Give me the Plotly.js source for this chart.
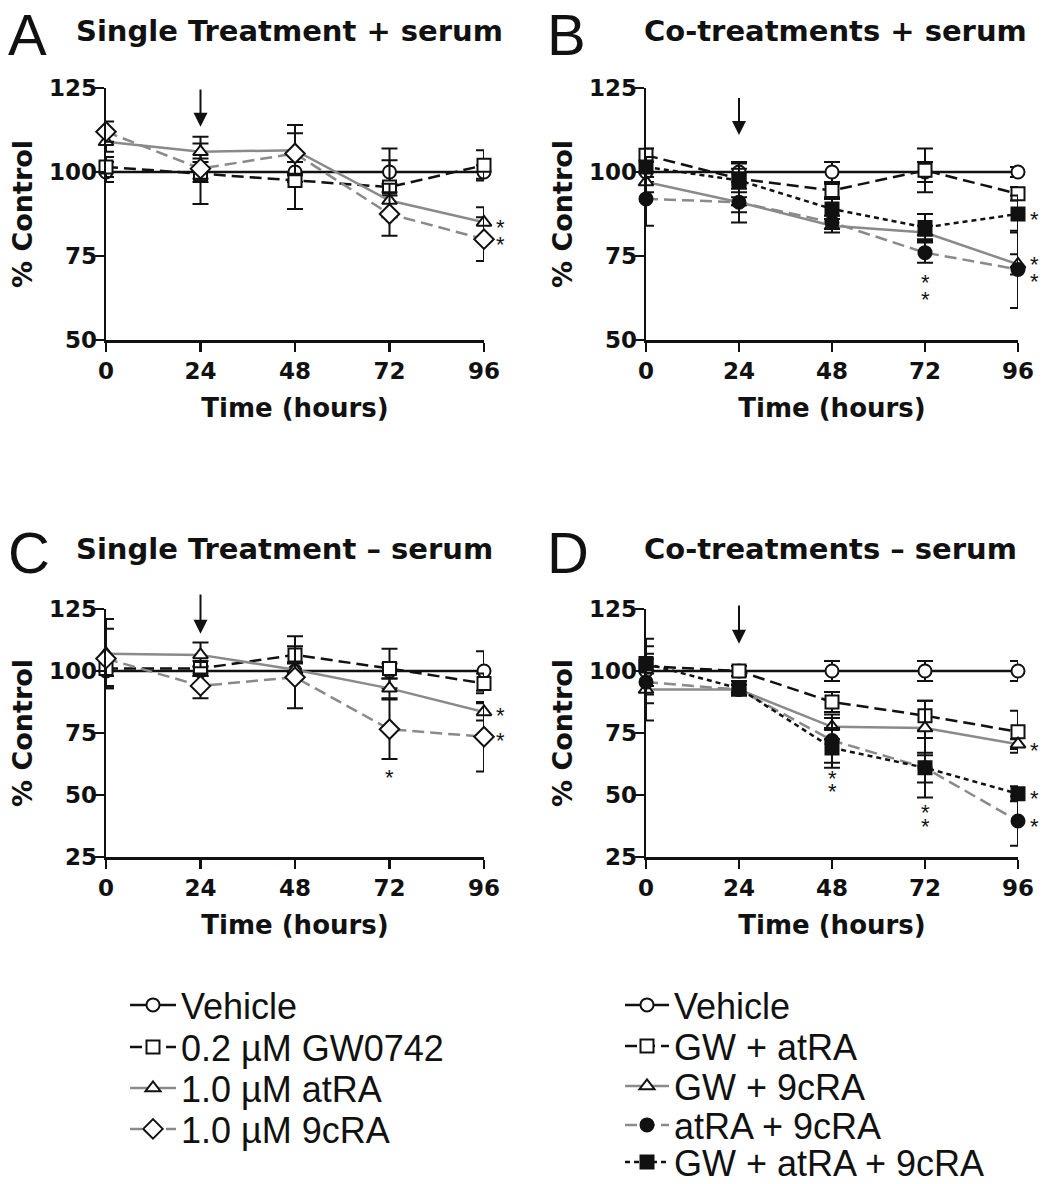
<!DOCTYPE html>
<html><head><meta charset="utf-8">
<script src="https://cdn.plot.ly/plotly-3.0.1.min.js"></script>
<style>html,body{margin:0;padding:0;background:#fff}#chart{width:1051px;height:1184px}</style>
</head><body><div id="chart"></div>
<script>
// ---------------- data ----------------
const hours = [0, 24, 48, 72, 96];
const xTicks = [0, 24, 48, 72, 96];
const yTicksTop = [50, 75, 100, 125];
const yTicksBottom = [25, 50, 75, 100, 125];

const legendSingle = ["Vehicle", "0.2 \u00b5M GW0742", "1.0 \u00b5M atRA", "1.0 \u00b5M 9cRA"];
const legendCo = ["Vehicle", "GW + atRA", "GW + 9cRA", "atRA + 9cRA", "GW + atRA + 9cRA"];

const panelTitles = ["Single Treatment + serum", "Co-treatments + serum", "Single Treatment \u2013 serum", "Co-treatments \u2013 serum"];
const panelLetters = ["A", "B", "C", "D"];

// Panel A: single treatment + serum
const A_vehicle = [100, 100, 100, 100, 100];
const A_vehicle_err = [3, 3, 3, 7, 2];
const A_gw = [101.5, 99.5, 97.5, 95.5, 102];
const A_gw_err = [3, 9, 8.5, 8, 4.5];
const A_atra = [109, 106, 106.5, 91.5, 85];
const A_atra_err = [3, 4.5, 7.5, 5, 4.5];
const A_9cra = [112, 101, 105.5, 87.5, 80];
const A_9cra_err = [3, 3, 6, 6.5, 6.5];

// Panel B: co-treatments + serum
const B_vehicle = [100, 100, 100, 100, 100];
const B_vehicle_err = [3, 3, 3, 3, 1.5];
const B_gwAtra = [105, 98, 94.5, 100.5, 93.5];
const B_gwAtra_err = [2, 3, 2, 6.5, 2];
const B_gw9cra = [97, 91, 84, 82, 72.5];
const B_gw9cra_err = [3, 6, 2, 2, 3];
const B_atra9cra = [92, 91, 85, 76, 71];
const B_atra9cra_err = [8, 3, 2, 3, 11.5];
const B_gwAtra9cra = [101.5, 97.5, 89, 83.5, 87.5];
const B_gwAtra9cra_err = [3, 5, 3, 4, 5.5];

// Panel C: single treatment - serum
const C_vehicle = [100, 100, 100, 100, 100];
const C_vehicle_err = [6, 2, 3, 3, 8];
const C_gw = [101, 101, 106.5, 101, 95];
const C_gw_err = [3, 3, 7.5, 8, 4];
const C_atra = [107, 106.5, 100.5, 93, 83.5];
const C_atra_err = [14, 5, 3, 4, 3.5];
const C_9cra = [105, 94, 97.5, 76.5, 73.5];
const C_9cra_err = [12, 5, 12.5, 12, 14];

// Panel D: co-treatments - serum
const D_vehicle = [100, 100, 100, 100, 100];
const D_vehicle_err = [13, 2, 4, 4, 4];
const D_gwAtra = [102, 100, 87.5, 82, 75.5];
const D_gwAtra_err = [8, 2, 4, 6, 8.5];
const D_gw9cra = [92.5, 92.5, 77.5, 77, 70.5];
const D_gw9cra_err = [12.5, 2, 5, 11, 2];
const D_atra9cra = [95.5, 92.5, 72, 61, 39.5];
const D_atra9cra_err = [5, 2, 9, 12, 10];
const D_gwAtra9cra = [103, 93, 69, 61, 50.5];
const D_gwAtra9cra_err = [4, 3, 8, 6, 3];

// significance asterisks [hour, value, side]
const A_sig = [[96, 85, "r"], [96, 80, "r"]];
const B_sig = [[72, 68.5, "c"], [72, 63.5, "c"], [96, 87.5, "r"], [96, 74, "r"], [96, 69, "r"]];
const C_sig = [[72, 59, "c"], [96, 84, "r"], [96, 74, "r"]];
const D_sig = [[48, 58.5, "c"], [48, 53.5, "c"], [72, 45, "c"], [72, 39.5, "c"], [96, 70, "r"], [96, 50.5, "r"], [96, 39.5, "r"]];

// arrows marking treatment at 24 h [hour, tail value, head value]
const arrows = [[24, 125, 113.5], [24, 122.5, 111], [24, 131.5, 115], [24, 127, 111]];

// ---------------- styles ----------------
const BLACK = "#111111", GRAY = "#8a8a8a";
const BOLD = "DejaVu Sans, Verdana, sans-serif";
const FONT = "Liberation Sans, Arial, sans-serif";

const styles = {
  vehicle:  {symbol: "circle", fill: "#ffffff", line: BLACK, dash: "solid"},
  gw:       {symbol: "square", fill: "#ffffff", line: BLACK, dash: "12px,6px"},
  atra:     {symbol: "triangle-up", fill: "#ffffff", line: GRAY, dash: "solid"},
  c9:       {symbol: "diamond", fill: "#ffffff", line: GRAY, dash: "12px,6px"},
  filledC:  {symbol: "circle", fill: BLACK, line: GRAY, dash: "12px,6px"},
  filledS:  {symbol: "square", fill: BLACK, line: BLACK, dash: "5px,4px"}
};

function tr(y, err, name, st, ax, leg, show) {
  return {
    type: "scatter", mode: "lines+markers", x: hours, y: y, name: name,
    xaxis: "x" + ax, yaxis: "y" + ax, legend: leg, showlegend: show, cliponaxis: false,
    line: {color: st.line, width: 2.5, dash: st.dash},
    marker: {symbol: st.symbol, size: st.symbol === "diamond" ? 15 : 13, color: st.fill,
             line: {color: BLACK, width: 2}},
    error_y: {type: "data", array: err, visible: true, color: BLACK, thickness: 2, width: 8}
  };
}

const traces = [
  tr(A_vehicle, A_vehicle_err, legendSingle[0], styles.vehicle, "", "legend", true),
  tr(A_gw, A_gw_err, legendSingle[1], styles.gw, "", "legend2", true),
  tr(A_atra, A_atra_err, legendSingle[2], styles.atra, "", "legend3", true),
  tr(A_9cra, A_9cra_err, legendSingle[3], styles.c9, "", "legend4", true),

  tr(B_vehicle, B_vehicle_err, legendCo[0], styles.vehicle, "2", "legend5", true),
  tr(B_gwAtra, B_gwAtra_err, legendCo[1], styles.gw, "2", "legend6", true),
  tr(B_gw9cra, B_gw9cra_err, legendCo[2], styles.atra, "2", "legend7", true),
  tr(B_atra9cra, B_atra9cra_err, legendCo[3], styles.filledC, "2", "legend8", true),
  tr(B_gwAtra9cra, B_gwAtra9cra_err, legendCo[4], styles.filledS, "2", "legend9", true),

  tr(C_vehicle, C_vehicle_err, legendSingle[0], styles.vehicle, "3", "legend", false),
  tr(C_gw, C_gw_err, legendSingle[1], styles.gw, "3", "legend", false),
  tr(C_atra, C_atra_err, legendSingle[2], styles.atra, "3", "legend", false),
  tr(C_9cra, C_9cra_err, legendSingle[3], styles.c9, "3", "legend", false),

  tr(D_vehicle, D_vehicle_err, legendCo[0], styles.vehicle, "4", "legend", false),
  tr(D_gwAtra, D_gwAtra_err, legendCo[1], styles.gw, "4", "legend", false),
  tr(D_gw9cra, D_gw9cra_err, legendCo[2], styles.atra, "4", "legend", false),
  tr(D_atra9cra, D_atra9cra_err, legendCo[3], styles.filledC, "4", "legend", false),
  tr(D_gwAtra9cra, D_gwAtra9cra_err, legendCo[4], styles.filledS, "4", "legend", false)
];

// ---------------- layout ----------------
const W = 1051, H = 1184;
const px = v => v / W, py = v => 1 - v / H;
const colLeft = [px(106), px(484)], colRight = [px(646), px(1018)];
const rowTop = [py(340), py(88)], rowBot = [py(857), py(609)];

function xax(domain, anchor) {
  return {domain: domain, anchor: anchor, range: [0, 96], tickvals: xTicks, ticks: "outside",
    ticklen: 9, tickwidth: 2.5, tickcolor: BLACK, showline: true, linewidth: 2.5, linecolor: BLACK,
    showgrid: false, zeroline: false, fixedrange: true,
    tickfont: {family: BOLD, size: 23, color: BLACK, weight: "bold"},
    title: {text: "Time (hours)", standoff: 16, font: {family: BOLD, size: 26, color: BLACK, weight: "bold"}}};
}
function yax(domain, anchor, lo, ticks) {
  return {domain: domain, anchor: anchor, range: [lo, 125], tickvals: ticks, ticks: "outside",
    ticklen: 9, tickwidth: 2.5, tickcolor: BLACK, showline: true, linewidth: 2.5, linecolor: BLACK,
    showgrid: false, zeroline: false, fixedrange: true, ticklabelstandoff: -7,
    tickfont: {family: BOLD, size: 23, color: BLACK, weight: "bold"},
    title: {text: "% Control", standoff: 9, font: {family: BOLD, size: 27, color: BLACK, weight: "bold"}}};
}

const annotations = [];
const titlePos = [[74, 31], [642, 31], [74, 549], [642, 549]];
const letterPos = [[6, 34], [545, 34], [6, 552], [545, 552]];
for (let i = 0; i < 4; i++) {
  annotations.push({xref: "paper", yref: "paper", x: px(letterPos[i][0]), y: py(letterPos[i][1]),
    xanchor: "left", yanchor: "middle", showarrow: false, text: panelLetters[i],
    font: {family: FONT, size: 58, color: BLACK}});
  annotations.push({xref: "paper", yref: "paper", x: px(titlePos[i][0]), y: py(titlePos[i][1]),
    xanchor: "left", yanchor: "middle", showarrow: false, text: panelTitles[i],
    font: {family: BOLD, size: 29, color: BLACK, weight: "bold"}});
}
const axNames = ["", "2", "3", "4"];
arrows.forEach((a, i) => {
  annotations.push({xref: "x" + axNames[i], yref: "y" + axNames[i], axref: "x" + axNames[i], ayref: "y" + axNames[i],
    x: a[0], y: a[2], ax: a[0], ay: a[1], text: "", showarrow: true, arrowhead: 2, arrowsize: 1.4,
    arrowwidth: 2, arrowcolor: BLACK, standoff: 0, startstandoff: 0});
});
[A_sig, B_sig, C_sig, D_sig].forEach((list, i) => {
  list.forEach(s => {
    annotations.push({xref: "x" + axNames[i], yref: "y" + axNames[i], x: s[0], y: s[1], text: "*",
      showarrow: false, xshift: s[2] === "r" ? 16 : 0, yshift: -5,
      font: {family: FONT, size: 22, color: BLACK}});
  });
});

const legendFont = {family: FONT, size: 36, color: BLACK};
function leg(xPix, yPix, itemW) {
  return {x: px(xPix), y: py(yPix), xanchor: "left", yanchor: "middle", font: legendFont,
    bgcolor: "rgba(0,0,0,0)", itemwidth: itemW, tracegroupgap: 0};
}
const leftRows = [1005, 1047, 1088, 1129];
const rightRows = [1005, 1046, 1086, 1125, 1162];
const layout = {
  width: W, height: H, paper_bgcolor: "#ffffff", plot_bgcolor: "#ffffff",
  margin: {l: 0, r: 0, t: 0, b: 0, autoexpand: false},
  font: {family: FONT, color: BLACK},
  xaxis: xax(colLeft, "y"), yaxis: yax(rowTop, "x", 50, yTicksTop),
  xaxis2: xax(colRight, "y2"), yaxis2: yax(rowTop, "x2", 50, yTicksTop),
  xaxis3: xax(colLeft, "y3"), yaxis3: yax(rowBot, "x3", 25, yTicksBottom),
  xaxis4: xax(colRight, "y4"), yaxis4: yax(rowBot, "x4", 25, yTicksBottom),
  legend: leg(125, leftRows[0], 46),
  legend2: leg(125, leftRows[1], 46),
  legend3: leg(125, leftRows[2], 46),
  legend4: leg(125, leftRows[3], 46),
  legend5: leg(620, rightRows[0], 44),
  legend6: leg(620, rightRows[1], 44),
  legend7: leg(620, rightRows[2], 44),
  legend8: leg(620, rightRows[3], 44),
  legend9: leg(620, rightRows[4], 44),
  annotations: annotations,
  showlegend: true
};

Plotly.newPlot("chart", traces, layout, {displayModeBar: false, staticPlot: true});
</script>
</body></html>
